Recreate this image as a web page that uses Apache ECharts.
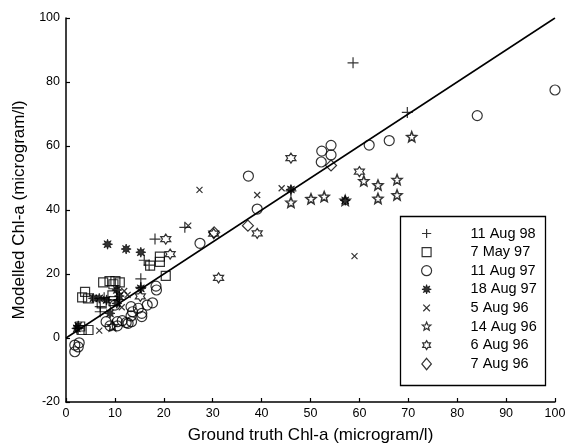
<!DOCTYPE html>
<html>
<head>
<meta charset="utf-8">
<title>Modelled vs ground truth Chl-a</title>
<script src="https://cdn.jsdelivr.net/npm/echarts@6/dist/echarts.min.js"></script>
<style>
  html, body { margin: 0; padding: 0; background: #fff; }
  #chart { width: 579px; height: 447px; }
</style>
</head>
<body>
<div id="chart"></div>
<script>
// [ground truth, modelled] in microgram/l
const aug11_98 = [
  [58.7, 86], [69.8, 70.5], [46, 46], [24.3, 34.6], [18.2, 30.9], [16.0, 24.3],
  [17.0, 22.8], [15.3, 18.5], [15.3, 15.8], [7.8, 12.6], [7.0, 9.8], [7.0, 8.2],
  [10.9, 12.0], [2.5, 3.0]
]
const may7_97 = [
  [19.2, 25.4], [19.2, 23.8], [17.2, 22.6], [20.4, 19.4], [7.6, 17.4], [8.9, 17.8],
  [10.1, 17.8], [11.0, 17.4], [9.7, 16.8], [3.9, 14.4], [3.3, 12.7], [4.5, 12.4],
  [9.5, 13.3], [9.7, 11.5], [7.3, 10.8], [2.9, 3.6], [3.2, 2.5], [4.6, 2.5]
]
const aug11_97 = [
  [100, 77.5], [84.1, 69.5], [66.1, 61.7], [62.0, 60.3], [54.2, 60.2], [52.3, 58.4],
  [54.2, 57.2], [52.2, 55.0], [37.3, 50.6], [39.1, 40.3], [27.4, 29.6], [18.4, 16.2],
  [18.5, 15.0], [17.7, 11.0], [16.6, 10.3], [14.8, 9.3], [13.3, 9.8], [13.6, 8.2],
  [13.3, 6.9], [15.5, 7.7], [15.5, 6.7], [10.0, 10.3], [8.2, 5.1], [9.0, 3.8],
  [10.5, 5.1], [10.5, 3.8], [12.3, 4.8], [12.7, 4.6], [13.4, 5.1], [11.5, 5.4],
  [1.8, -2.2], [2.7, -1.5], [1.8, -4.3], [2.5, -2.8]
]
const aug18_97 = [
  [46.0, 46.4], [57.1, 43.0], [8.5, 29.3], [12.3, 27.8], [15.3, 26.8], [15.3, 15.5],
  [5.6, 12.4], [6.8, 12.4], [8.3, 11.9], [10.4, 15.0], [10.9, 13.1], [10.4, 10.8],
  [9.0, 7.7], [2.2, 3.0], [2.5, 3.8]
]
const aug5_96 = [
  [27.3, 46.3], [39.1, 44.7], [44.1, 46.8], [59.0, 25.6], [25.0, 35.1], [11.9, 14.7],
  [11.4, 9.6], [6.8, 2.3], [12.6, 13.5]
]
const aug14_96 = [
  [70.7, 62.9], [60.9, 49.1], [63.8, 47.8], [67.7, 49.5], [46.0, 42.4], [50.1, 43.5],
  [52.8, 44.2], [57.1, 43.0], [63.8, 43.6], [67.7, 44.7], [9.5, 3.8]
]
const aug6_96 = [
  [46.0, 56.2], [60.0, 52.0], [39.1, 32.7], [30.2, 32.6], [31.2, 18.8], [20.4, 30.9],
  [21.3, 26.2], [15.2, 13.0]
]
const aug7_96 = [[30.3, 33.0], [37.2, 35.1], [54.2, 53.9]]

const oneToOne = [[0, 0], [100, 100]]

const font = '"Liberation Sans", Arial, Helvetica, sans-serif'

const shapes = {
  plus: 'M0,5L10,5M5,0L5,10',
  square: 'M0,0L10,0L10,10L0,10Z',
  circle: 'M10,5A5,5,0,1,1,0,5A5,5,0,1,1,10,5Z',
  asterisk: 'M10,5L7.22,5.92L8.54,8.54L5.92,7.22L5,10L4.08,7.22L1.46,8.54L2.78,5.92L0,5L2.78,4.08L1.46,1.46L4.08,2.78L5,0L5.92,2.78L8.54,1.46L7.22,4.08Z',
  cross: 'M0,0L10,10M10,0L0,10',
  star: 'M5,0L6.29,3.22L9.76,3.45L7.09,5.68L7.94,9.05L5,7.2L2.06,9.05L2.91,5.68L0.24,3.45L3.71,3.22Z',
  hexagram: 'M5,0L6.44,2.5L9.33,2.5L7.89,5L9.33,7.5L6.44,7.5L5,10L3.56,7.5L0.67,7.5L2.11,5L0.67,2.5L3.56,2.5Z',
  diamond: 'M5,0L10,6L5,12L0,6Z'
}

// padded copy so the legend icon comes out smaller inside its box
function padded(d, p) {
  return 'path://M' + (-p) + ',' + (-p) + 'M' + (10 + p) + ',' + (10 + p) + d
}

const groups = [
  { name: '11 Aug 98', data: aug11_98, shape: 'plus', size: 11, pad: 1.5 },
  { name: '7 May 97', data: may7_97, shape: 'square', size: 9, pad: 1.7 },
  { name: '11 Aug 97', data: aug11_97, shape: 'circle', size: 10, pad: 1 },
  { name: '18 Aug 97', data: aug18_97, shape: 'asterisk', size: 10, pad: 1.4, filled: true },
  { name: '5 Aug 96', data: aug5_96, shape: 'cross', size: 6, pad: 4 },
  { name: '14 Aug 96', data: aug14_96, shape: 'star', size: 10, pad: 1.7 },
  { name: '6 Aug 96', data: aug6_96, shape: 'hexagram', size: 10, pad: 1.7 },
  { name: '7 Aug 96', data: aug7_96, shape: 'diamond', size: 11, pad: 0.6 }
]

const chart = echarts.init(document.getElementById('chart'))

const series = groups.map(function(g) {
  return {
    name: g.name,
    type: 'scatter',
    data: g.data,
    clip: false,
    symbol: 'path://' + shapes[g.shape],
    symbolSize: g.size,
    z: 3,
    itemStyle: {
      color: g.filled ? '#000' : 'transparent',
      borderColor: '#000',
      borderWidth: g.shape === 'star' ? 1.5 : (g.filled ? 0.8 : 1.2)
    }
  }
})

series.push({
  name: '1:1',
  type: 'line',
  data: oneToOne,
  showSymbol: false,
  silent: true,
  z: 2,
  lineStyle: { color: '#000', width: 1.5 }
})

chart.setOption({
  animation: false,
  backgroundColor: '#fff',
  textStyle: { fontFamily: font },
  grid: { left: 66, right: 24, top: 18, bottom: 45, outerBoundsMode: 'none' },
  xAxis: {
    type: 'value',
    min: 0,
    max: 100,
    interval: 10,
    name: 'Ground truth Chl-a (microgram/l)',
    nameLocation: 'middle',
    nameGap: 25,
    nameTextStyle: { fontSize: 17, color: '#000', fontFamily: font },
    axisLine: { onZero: false, lineStyle: { color: '#000', width: 1.5 } },
    axisTick: { inside: true, length: 4, lineStyle: { color: '#000', width: 1.2 } },
    axisLabel: { color: '#000', fontSize: 12.5, margin: 5, fontFamily: font },
    splitLine: { show: false }
  },
  yAxis: {
    type: 'value',
    min: -20,
    max: 100,
    interval: 20,
    name: 'Modelled Chl-a (microgram/l)',
    nameLocation: 'middle',
    nameGap: 38,
    nameTextStyle: { fontSize: 17, color: '#000', fontFamily: font },
    axisLine: { onZero: false, lineStyle: { color: '#000', width: 1.5 } },
    axisTick: { inside: true, length: 4, lineStyle: { color: '#000', width: 1.2 } },
    axisLabel: { color: '#000', fontSize: 12.5, margin: 6, fontFamily: font },
    splitLine: { show: false }
  },
  legend: {
    orient: 'vertical',
    left: 415,
    top: 221,
    padding: 5,
    itemWidth: 78,
    itemHeight: 12,
    itemGap: 3.6,
    selectedMode: false,
    itemStyle: { color: 'transparent', borderColor: '#000', borderWidth: 1.2 },
    textStyle: { fontSize: 14.5, lineHeight: 12, color: '#000', fontFamily: font },
    data: groups.map(function(g) {
      const item = { name: g.name, icon: padded(shapes[g.shape], g.pad) }
      if (g.filled) item.itemStyle = { color: '#000', borderWidth: 0.8 }
      return item
    })
  },
  graphic: [{
    type: 'rect',
    left: 398,
    top: 214,
    shape: { width: 145, height: 169 },
    style: { fill: 'none', stroke: '#000', lineWidth: 1.3 },
    z: 10
  }],
  series: series
})
</script>
</body>
</html>
